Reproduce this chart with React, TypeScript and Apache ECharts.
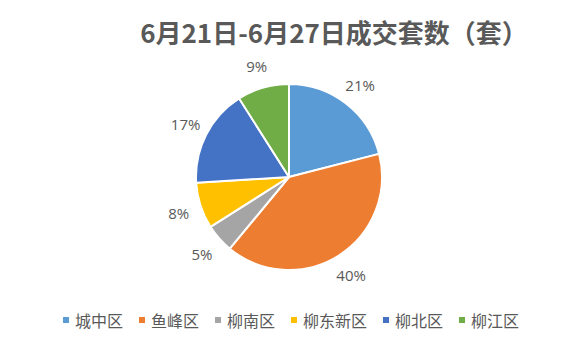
import React, { useEffect, useRef } from "react";
import * as echarts from "echarts";

const TITLE = "6月21日-6月27日成交套数（套）";
const categories = ["城中区", "鱼峰区", "柳南区", "柳东新区", "柳北区", "柳江区"];
const percents = [21, 40, 5, 8, 17, 9];
const colors = ["#5B9BD5", "#ED7D31", "#A5A5A5", "#FFC000", "#4472C4", "#70AD47"];

export default function App() {
  const ref = useRef<HTMLDivElement>(null);
  useEffect(() => {
    if (!ref.current) return;
    const chart = echarts.init(ref.current, undefined, { renderer: "svg" });
    const data = categories.map((name, i) => ({ name, value: percents[i] }));
    chart.setOption({
      animation: false,
      color: colors,
      title: {
        text: TITLE,
        left: 329,
        textAlign: "center",
        top: 13,
        textStyle: {
          fontFamily: "Noto Sans CJK SC",
          fontSize: 26,
          fontWeight: "bold",
          color: "#595959",
        },
      },
      legend: {
        data: categories,
        top: 307,
        left: "center",
        icon: "rect",
        itemWidth: 8,
        itemHeight: 8,
        itemGap: 14,
        textStyle: {
          fontFamily: "Noto Sans CJK SC",
          fontSize: 16,
          color: "#595959",
        },
      },
      series: [
        {
          type: "pie",
          center: [289, 177],
          radius: [0, 93],
          startAngle: 90,
          clockwise: true,
          data,
          itemStyle: { borderColor: "#ffffff", borderWidth: 2 },
          label: { show: false },
          labelLine: { show: false },
          silent: true,
        },
        {
          type: "pie",
          center: [289, 177],
          radius: [93, 133],
          startAngle: 90,
          clockwise: true,
          data,
          itemStyle: { color: "rgba(0,0,0,0)" },
          label: {
            show: true,
            position: "inside",
            formatter: "{c}%",
            fontFamily: "Open Sans",
            fontSize: 15,
            color: "#595959",
          },
          labelLine: { show: false },
          silent: true,
          legendHoverLink: false,
        },
      ],
    });
    return () => chart.dispose();
  }, []);
  return (
    <div
      ref={ref}
      style={{ position: "fixed", left: 0, top: 0, width: 580, height: 347, background: "#fff" }}
    />
  );
}
